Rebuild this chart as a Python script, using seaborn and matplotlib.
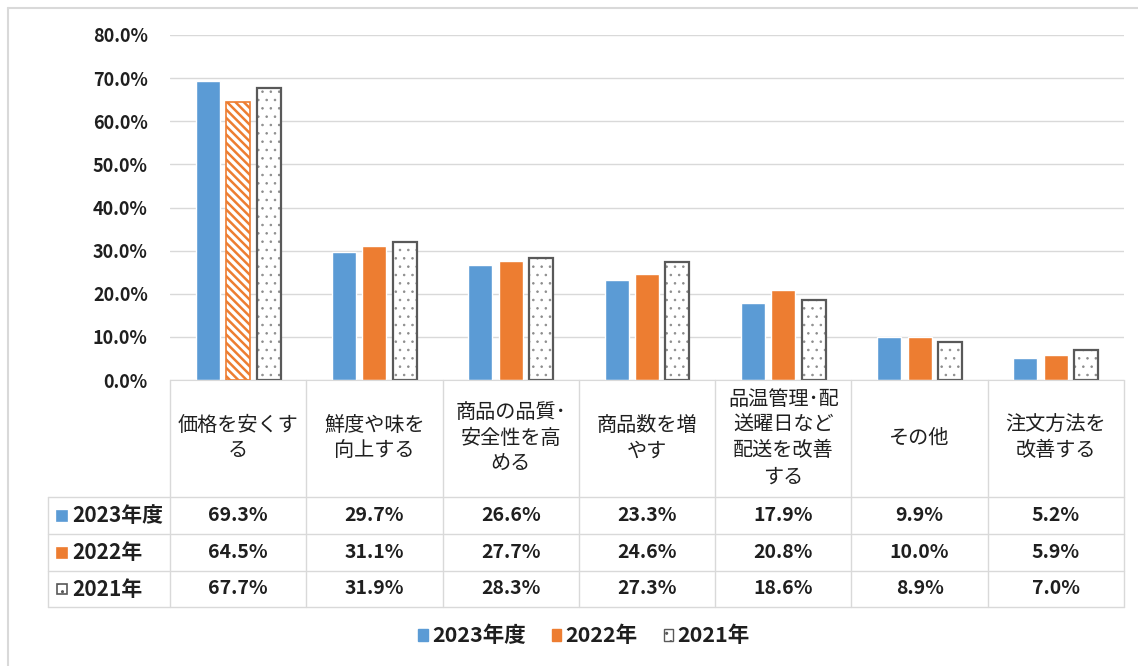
import matplotlib
matplotlib.use("Agg")
import matplotlib.pyplot as plt
import matplotlib.transforms as mtransforms
from matplotlib.lines import Line2D
from matplotlib.patches import Patch, Rectangle
import seaborn as sns
import pandas as pd

# data
categories = ["価格を安くす\nる", "鮮度や味を\n向上する", "商品の品質･\n安全性を高\nめる",
              "商品数を増\nやす", "品温管理･配\n送曜日など\n配送を改善\nする", "その他",
              "注文方法を\n改善する"]
years = ["2023年度", "2022年", "2021年"]
v2023 = [69.3, 29.7, 26.6, 23.3, 17.9, 9.9, 5.2]
v2022 = [64.5, 31.1, 27.7, 24.6, 20.8, 10.0, 5.9]
v2021 = [67.7, 31.9, 28.3, 27.3, 18.6, 8.9, 7.0]
y_ticks = [0, 10, 20, 30, 40, 50, 60, 70, 80]

BLUE = "#5B9BD5"
ORANGE = "#ED7D31"
DGRAY = "#595959"
DOTS = "#8c8c8c"
LGRAY = "#d9d9d9"
TXT = "#1f1f1f"

sns.set_style("white")
plt.rcParams['font.family'] = ['Noto Sans CJK JP', 'DejaVu Sans']


def hatch_lw(p, lw):
    if hasattr(p, "set_hatch_linewidth"):
        p.set_hatch_linewidth(lw)


W, H = 1138, 666
fig = plt.figure(figsize=(W / 100, H / 100), dpi=100)
ax = fig.add_axes([170 / W, 1 - 380 / H, (1124 - 170) / W, (380 - 35) / H])

df = pd.DataFrame({
    "cat": categories * 3,
    "year": sum([[y] * len(categories) for y in years], []),
    "value": v2023 + v2022 + v2021,
})
sns.barplot(data=df, x="cat", y="value", hue="year", order=categories, hue_order=years,
            palette=[BLUE, ORANGE, "white"], width=0.67, gap=0.21, legend=False,
            saturation=1, ax=ax)

# styling the bars like the excel original
for bar in ax.containers[2]:
    bar.set_facecolor("white")
    bar.set_edgecolor(DOTS)
    bar.set_linewidth(0)
    bar.set_hatch("..")
    hatch_lw(bar, 0.6)
    ax.add_patch(Rectangle((bar.get_x(), bar.get_y()), bar.get_width(), bar.get_height(),
                           facecolor="none", edgecolor=DGRAY, lw=1.6, zorder=bar.get_zorder() + 0.1))
first_2022 = ax.containers[1][0]
first_2022.set_facecolor("white")
first_2022.set_edgecolor(ORANGE)
first_2022.set_linewidth(1.2)
first_2022.set_hatch("\\\\\\\\")
hatch_lw(first_2022, 1.8)

ax.set_ylim(0, 80)
ax.set_xlim(-0.5, len(categories) - 0.5)
ax.set_yticks(y_ticks)
ax.set_yticklabels([f"{t:.1f}%" for t in y_ticks], fontsize=13, fontweight="bold", color=TXT)
ax.tick_params(axis="y", length=0, pad=16)
ax.set_xticks([])
ax.set_xlabel("")
ax.set_ylabel("")
ax.grid(axis="y", color=LGRAY, lw=1)
ax.set_axisbelow(True)
for s in ["left", "right", "top"]:
    ax.spines[s].set_visible(False)
ax.spines["bottom"].set_color(LGRAY)

# data table under the chart
def fy(px):
    return 1 - px / H

blend = mtransforms.blended_transform_factory(ax.transData, fig.transFigure)
row_edges = [380, 497, 534, 571, 607]
tbl_left = 48 / W
tbl_right = 1124 / W

for i in range(len(categories) + 1):
    b = i - 0.5
    fig.add_artist(Line2D([b, b], [fy(380), fy(607)], transform=blend, color=LGRAY, lw=1))
fig.add_artist(Line2D([tbl_left, tbl_left], [fy(497), fy(607)], transform=fig.transFigure,
                      color=LGRAY, lw=1))
for yy in row_edges[1:]:
    fig.add_artist(Line2D([tbl_left, tbl_right], [fy(yy), fy(yy)], transform=fig.transFigure,
                          color=LGRAY, lw=1))

for i, c in enumerate(categories):
    fig.text(i, fy(438), c, transform=blend, ha="center", va="center", fontsize=14.5,
             linespacing=1.3, color=TXT)

series = [v2023, v2022, v2021]
faces = [BLUE, ORANGE, "white"]
edges = [BLUE, ORANGE, DGRAY]
hatches = [None, None, ".."]
for r, (yr, vals) in enumerate(zip(years, series)):
    yc = (row_edges[r + 1] + row_edges[r + 2]) / 2
    fig.add_artist(Rectangle((57 / W, fy(yc + 5)), 10 / W, 10 / H, transform=fig.transFigure,
                             facecolor=faces[r], edgecolor=edges[r], lw=1.2, hatch=hatches[r]))
    fig.text(72 / W, fy(yc), yr, ha="left", va="center", fontsize=15, fontweight="bold",
             color=TXT)
    for i, v in enumerate(vals):
        fig.text(i, fy(yc), f"{v:.1f}%", transform=blend, ha="center", va="center",
                 fontsize=14, fontweight="bold", color=TXT)

# legend
handles = [Patch(facecolor=faces[k], edgecolor=edges[k], hatch=hatches[k], lw=1, label=years[k])
           for k in range(3)]
fig.legend(handles=handles, loc="center", bbox_to_anchor=(584 / W, fy(636)), ncol=3,
           frameon=False, handlelength=0.45, handleheight=0.45, handletextpad=0.2,
           columnspacing=1.2, prop={"weight": "bold", "size": 15.5}, labelcolor=TXT)

# outer frame
fig.add_artist(Line2D([8 / W, 8 / W], [0, fy(8)], transform=fig.transFigure, color=LGRAY, lw=1.5))
fig.add_artist(Line2D([8 / W, 1], [fy(8), fy(8)], transform=fig.transFigure, color=LGRAY, lw=1.5))

fig.savefig("out.png", dpi=100)
